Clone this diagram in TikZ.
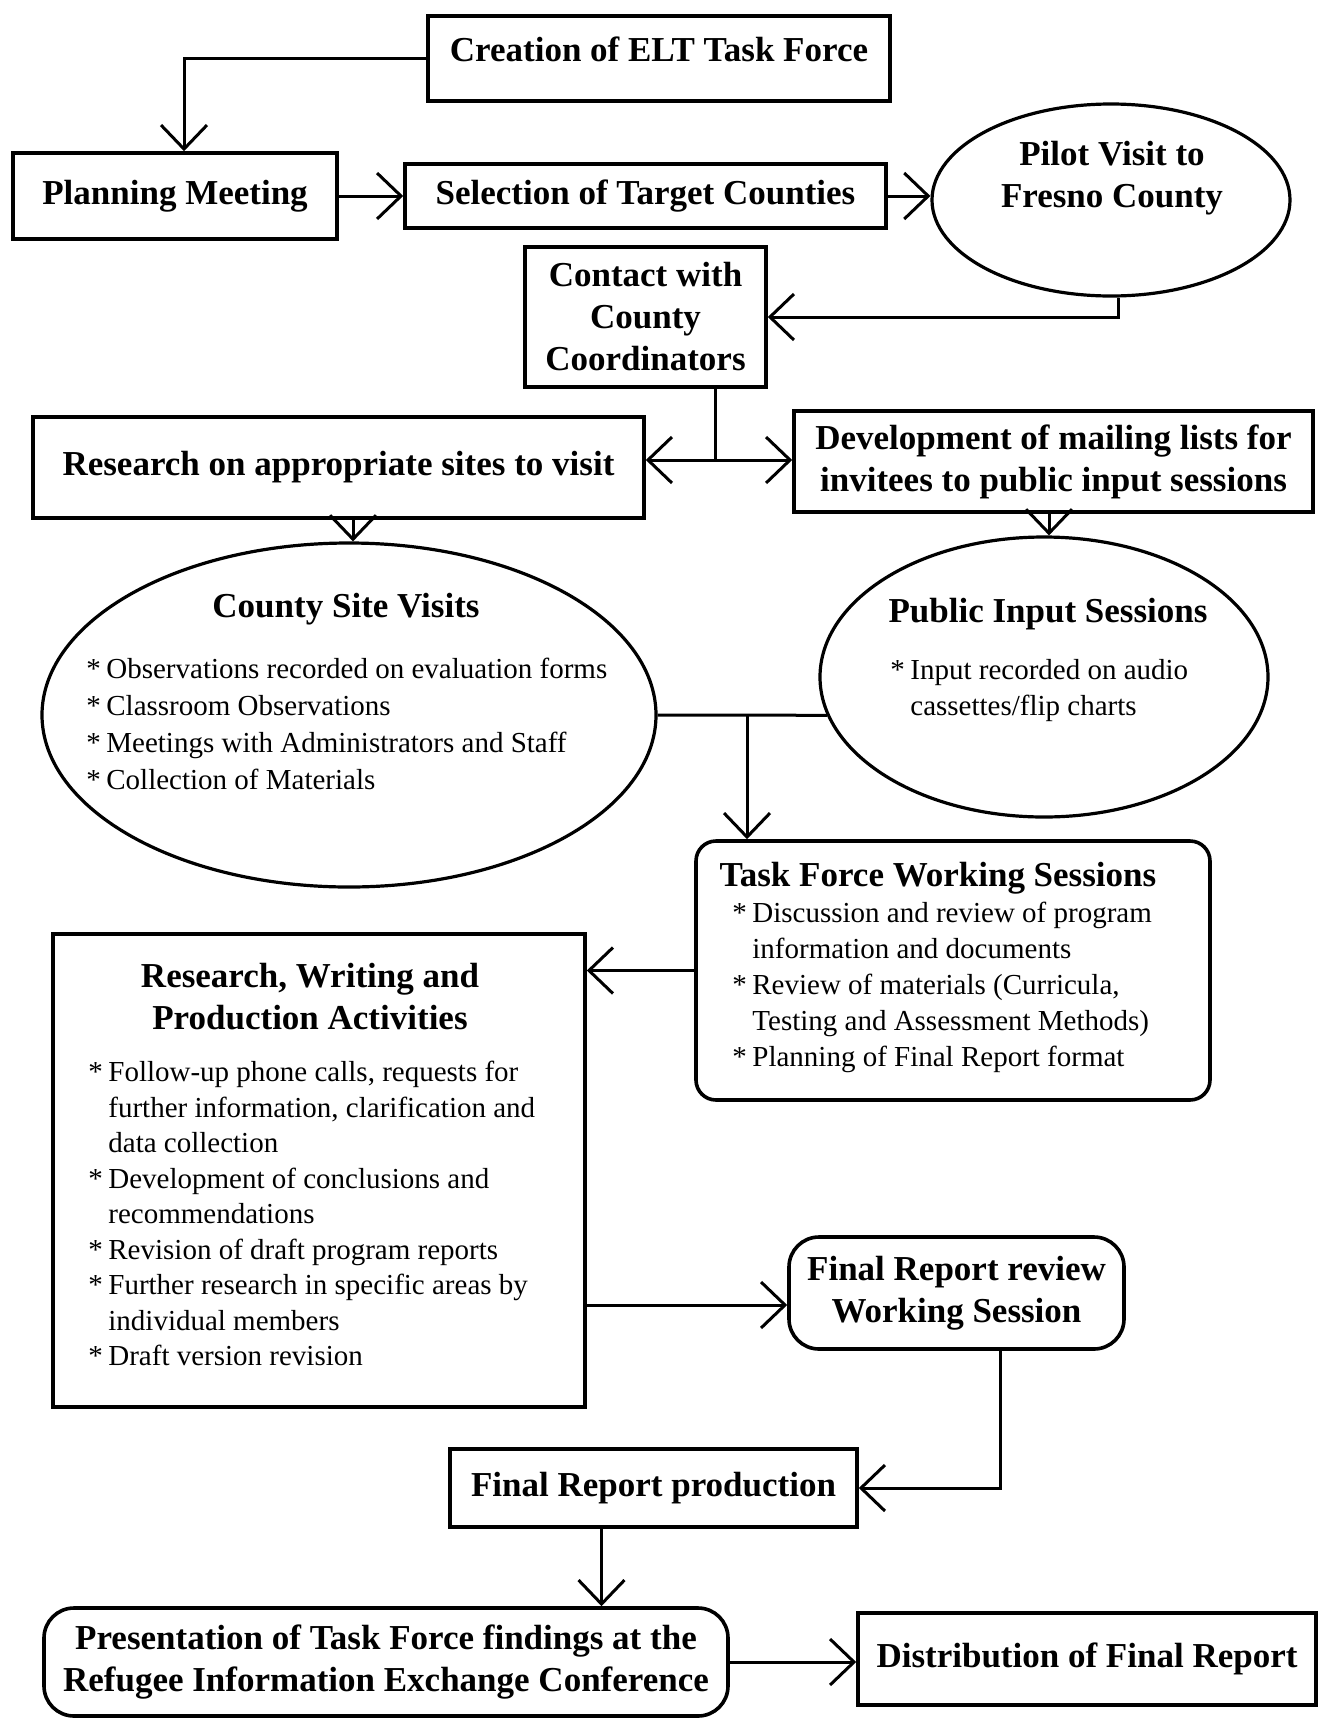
\documentclass[tikz,border=0pt]{standalone}
\usepackage{fontspec}
\setmainfont{Liberation Serif}
\usetikzlibrary{arrows.meta,shapes.geometric}
\newcommand\btfont{\fontsize{17.5pt}{21pt}\selectfont\bfseries}
\newcommand\rgfont{\fontsize{14.5pt}{18pt}\selectfont}
\newcommand\bul{\makebox[10pt][l]{*}}
\newcommand\ind{\hspace*{10pt}}
\begin{document}
\begin{tikzpicture}[x=0.5pt,y=-0.5pt,
  box/.style={draw,line width=1.8pt,inner sep=0pt,align=center,font=\btfont},
  ell/.style={draw,ellipse,line width=1.6pt,inner sep=0pt},
  btext/.style={inner sep=0pt,align=center,font=\btfont},
  ltext/.style={inner sep=0pt,align=left,anchor=north west,font=\rgfont},
  conn/.style={line width=1.5pt},
  arr/.style={line width=1.5pt,-{Straight Barb[length=12pt,width=23pt,line width=1.5pt]}}]
\fill[white] (0,0) rectangle (1319,1719);
\useasboundingbox (0,0) rectangle (1319,1719);

% nodes
\node[box, minimum width=231pt, minimum height=42.5pt] (creation) at (659,58.5) {};
\node[btext] (creationT) at (659,49) {Creation of ELT Task Force};
\node[box, minimum width=162pt, minimum height=43pt] (planning) at (175,196) {Planning Meeting};
\node[box, minimum width=240.5pt, minimum height=32pt] (selection) at (645.5,196) {Selection of Target Counties};
\node[ell, minimum width=179pt, minimum height=96pt] (pilot) at (1111,200) {};
\node[btext] (pilotT) at (1112,178) {Pilot Visit to\\Fresno County};
\node[box, minimum width=120.5pt, minimum height=70pt] (contact) at (645.5,317) {Contact with\\County\\Coordinators};
\node[box, minimum width=305.5pt, minimum height=50.5pt] (research) at (338.5,467.5) {Research on appropriate sites to visit};
\node[box, minimum width=259.5pt, minimum height=50.5pt] (dev) at (1053.5,461.5) {Development of mailing lists for\\invitees to public input sessions};

\node[ell, minimum width=307pt, minimum height=172pt] (county) at (349,715) {};
\node[btext] (countyT) at (346,609) {County Site Visits};
\node[ltext, font=\fontsize{14.5pt}{18.5pt}\selectfont] (countyL) at (86,658) {\bul Observations recorded on evaluation forms\\
\bul Classroom Observations\\
\bul Meetings with Administrators and Staff\\
\bul Collection of Materials};

\node[ell, minimum width=224pt, minimum height=140pt] (public) at (1044,677) {};
\node[btext] (publicT) at (1048,614) {Public Input Sessions};
\node[ltext] (publicL) at (890,659) {\bul Input recorded on audio\\
\ind cassettes/flip charts};

\node[box, rounded corners=10pt, minimum width=257pt, minimum height=129.5pt] (taskforce) at (953,970.5) {};
\node[btext] (taskforceT) at (938,878) {Task Force Working Sessions};
\node[ltext] (taskforceL) at (732,902) {\bul Discussion and review of program\\
\ind information and documents\\
\bul Review of materials (Curricula,\\
\ind Testing and Assessment Methods)\\
\bul Planning of Final Report format};

\node[box, minimum width=266pt, minimum height=236.5pt] (rwp) at (319,1170.5) {};
\node[btext] (rwpT) at (310,996.5) {Research, Writing and\\Production Activities};
\node[ltext, font=\fontsize{14.5pt}{17.75pt}\selectfont] (rwpL) at (88,1061) {\bul Follow-up phone calls, requests for\\
\ind further information, clarification and\\
\ind data collection\\
\bul Development of conclusions and\\
\ind recommendations\\
\bul Revision of draft program reports\\
\bul Further research in specific areas by\\
\ind individual members\\
\bul Draft version revision};

\node[box, rounded corners=15pt, minimum width=167.5pt, minimum height=56pt] (review) at (956.5,1293) {Final Report review\\Working Session};
\node[box, minimum width=203.5pt, minimum height=39pt] (production) at (653.5,1488) {Final Report production};
\node[box, rounded corners=15pt, minimum width=342pt, minimum height=54pt] (presentation) at (386,1662) {Presentation of Task Force findings at the\\Refugee Information Exchange Conference};
\node[box, minimum width=229pt, minimum height=46pt] (distribution) at (1087,1659) {Distribution of Final Report};

% connectors
\draw[arr] (creation.west) -| ([xshift=4.5pt]planning.north);
\draw[arr] (planning.east) -- (planning.east -| selection.west);
\draw[arr] (selection.east) -- (selection.east -| pilot.west);
\coordinate (q1) at ([xshift=3.5pt]pilot.south);
\draw[arr] (q1) |- (contact.east);
\coordinate (j1) at (715,460);
\draw[conn] (contact.south -| j1) -- (j1);
\draw[arr] (j1) -- (j1 -| research.east);
\draw[arr] (j1) -- (j1 -| dev.west);
\coordinate (q2) at ([xshift=2pt]research.south -| county.north);
\draw[arr] (q2) -- (q2 |- county.north);
\coordinate (q3) at ([xshift=2.5pt]dev.south -| public.north);
\draw[arr] (q3) -- (q3 |- public.north);
\draw[conn] (county.east) -- (public.190);
\coordinate (j2) at (747,715);
\draw[arr] (j2) -- (j2 |- taskforce.north);
\draw[arr] (taskforce.west) -- (taskforce.west -| rwp.east);
\coordinate (r1) at ([yshift=-6pt]review.west);
\draw[arr] (rwp.east |- r1) -- (r1);
\draw[arr] ([xshift=22pt]review.south) |- (production.east);
\coordinate (p1) at ([xshift=-26pt]production.south);
\draw[arr] (p1) -- (p1 |- presentation.north);
\draw[arr] (presentation.east) -- (presentation.east -| distribution.west);
\end{tikzpicture}
\end{document}
